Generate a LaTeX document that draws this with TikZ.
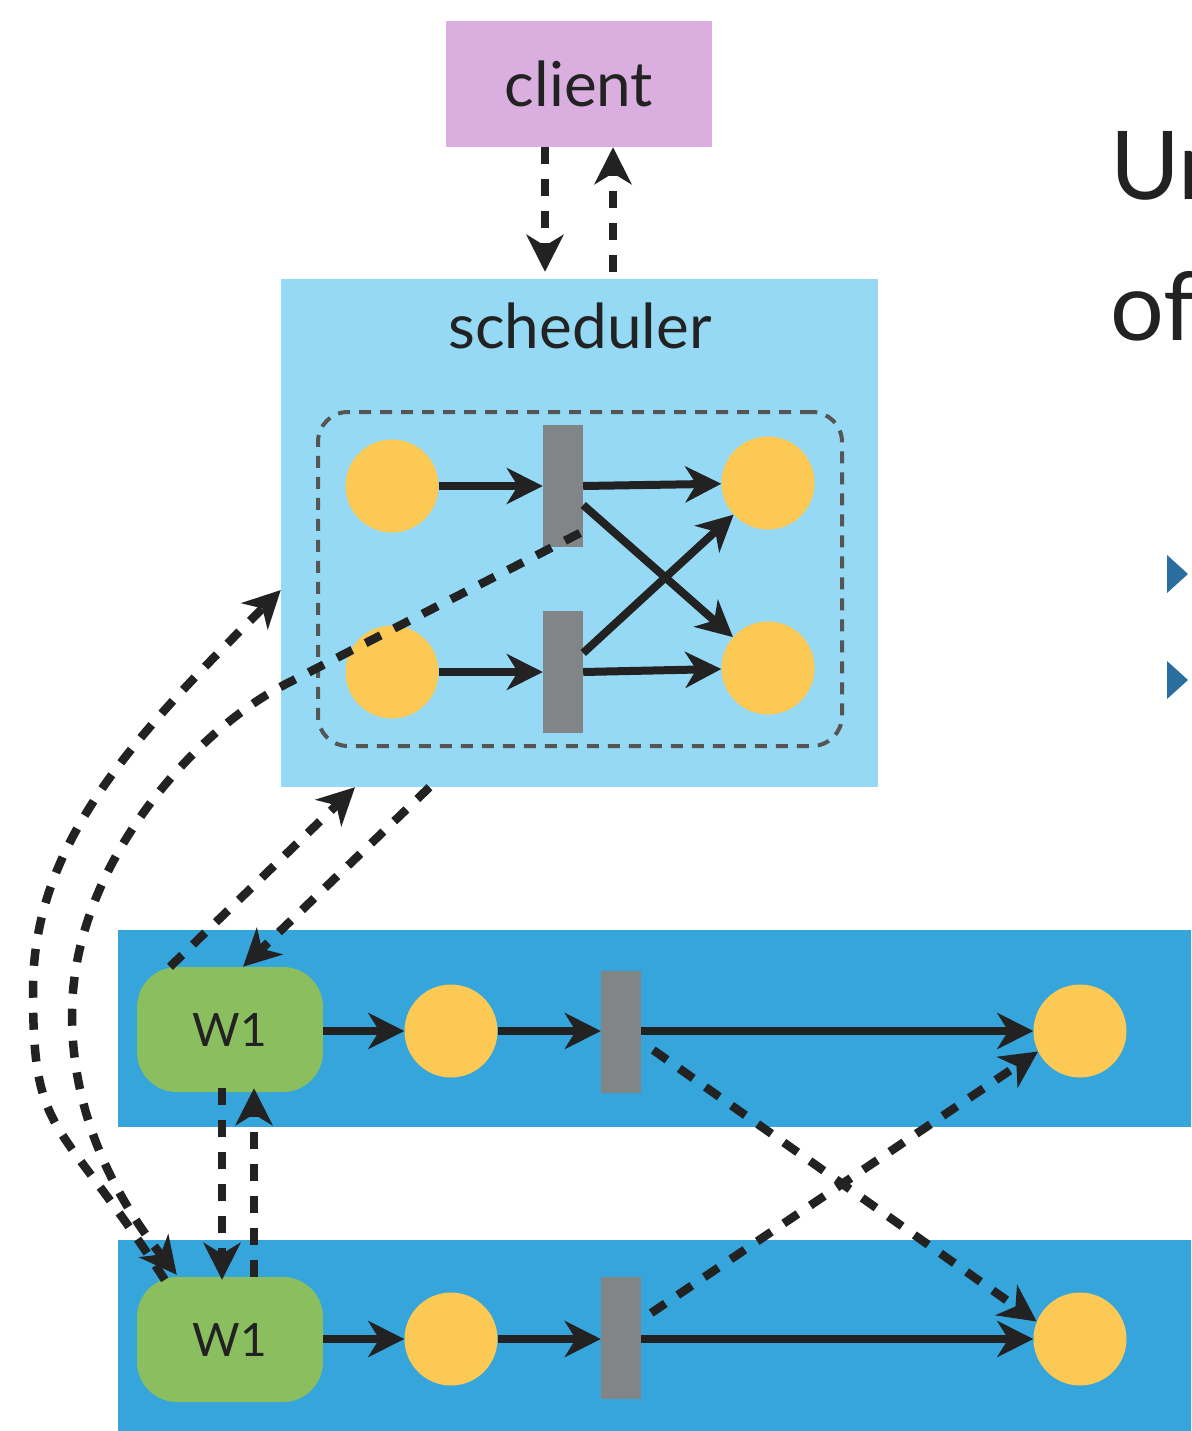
\documentclass[tikz,border=0pt]{standalone}
\usepackage{fontspec}
\setmainfont{Lato}
\usetikzlibrary{arrows.meta}

\definecolor{ink}{HTML}{222222}
\definecolor{clientc}{HTML}{DAAFDF}
\definecolor{schedc}{HTML}{95D9F5}
\definecolor{bandc}{HTML}{35A5DB}
\definecolor{workc}{HTML}{8BBE5F}
\definecolor{ballc}{HTML}{FDC955}
\definecolor{barc}{HTML}{828587}
\definecolor{framec}{HTML}{555555}
\definecolor{bulletc}{HTML}{2A6E9F}

\tikzset{
  ball/.style={circle, fill=ballc, minimum size=93pt, inner sep=0pt},
  gbar/.style={rectangle, fill=barc, minimum width=40pt, minimum height=122pt, inner sep=0pt},
  worker/.style={rectangle, fill=workc, rounded corners=40pt, minimum width=186pt,
    minimum height=125pt, inner sep=0pt, text=ink, font=\fontsize{46}{50}\selectfont},
  band/.style={rectangle, fill=bandc, anchor=north west, inner sep=0pt},
  labelfont/.style={text=ink, font=\fontsize{62}{64}\selectfont},
  solidarr/.style={draw=ink, line width=8pt,
    -{Stealth[length=36pt,width=36pt,inset=11pt]}},
  dasharr/.style={draw=ink, line width=8.5pt, dash pattern=on 17pt off 15pt,
    -{Stealth[length=37pt,width=37pt,inset=11pt]}}
}

\begin{document}
\begin{tikzpicture}[x=1pt, y=-1pt]
\useasboundingbox (0,0) rectangle (1191,1431);
\clip (0,0) rectangle (1191,1431);

% client and scheduler
\node[rectangle, fill=clientc, minimum width=266pt, minimum height=126pt, inner sep=0pt,
  labelfont] (client) at (579,84) {client};
\node[rectangle, fill=schedc, minimum width=597pt, minimum height=508pt, inner sep=0pt]
  (sched) at (579.5,533) {};
\node[anchor=base, labelfont] (schedlabel) at (580,348) {scheduler};

% task graph held by the scheduler
\node[rectangle, draw=framec, line width=4pt, dash pattern=on 12pt off 9pt,
  rounded corners=30pt, minimum width=524pt, minimum height=334pt, inner sep=0pt]
  (group) at (580,579) {};
\node[ball] (p1) at (392,486) {};
\node[ball] (p2) at (392,672) {};
\node[ball] (p3) at (768,483) {};
\node[ball] (p4) at (768,668) {};
\node[gbar] (t1) at (563,486) {};
\node[gbar] (t2) at (563,672) {};

\draw[solidarr] (p1) -- (t1);
\draw[solidarr] (t1.east) -- (p3);
\draw[solidarr] ([yshift=-19pt]t1.east) -- (p4);
\draw[solidarr] ([yshift=19pt]t2.east) -- (p3);
\draw[solidarr] (p2) -- (t2);
\draw[solidarr] (t2.east) -- (p4);

% worker rows
\node[band, minimum width=1090pt, minimum height=197pt] (band1) at (118,930) {};
\node[band, minimum width=1090pt, minimum height=200pt] (band2) at (118,1240) {};

\node[worker] (w1) at (230,1029.5) {W1};
\node[worker] (w2) at (230,1339.5) {W1};
\node[ball] (q1) at (451,1031) {};
\node[ball] (q2) at (451,1339) {};
\node[gbar] (u1) at (621,1032) {};
\node[gbar] (u2) at (621,1338) {};
\node[ball] (r1) at (1080,1031) {};
\node[ball] (r2) at (1080,1339) {};

\draw[solidarr] (w1.east |- q1) -- (q1);
\draw[solidarr] (q1) -- (u1.west |- q1);
\draw[solidarr] (u1.east |- r1) -- (r1);
\draw[solidarr] (w2.east |- q2) -- (q2);
\draw[solidarr] (q2) -- (u2.west |- q2);
\draw[solidarr] (u2.east |- r2) -- (r2);

% data moved between the workers
\draw[dasharr] ([xshift=12pt,yshift=-18pt]u1.east) -- (r2.158);
\draw[dasharr] ([xshift=10pt,yshift=25pt]u2.east) -- (r1.206);

% client <-> scheduler
\draw[dasharr] ([xshift=-34pt]client.south) -- ([xshift=-34.5pt,yshift=7pt]sched.north);
\draw[dasharr] ([xshift=33.5pt,yshift=7pt]sched.north) -- ([xshift=34pt]client.south);

% scheduler <-> first worker
\draw[dasharr] ([xshift=-150pt]sched.south) -- ([xshift=13pt]w1.north);
\draw[dasharr] ([xshift=-60pt]w1.north) -- ([xshift=-224.5pt]sched.south);

% first worker <-> second worker
\draw[dasharr] ([xshift=-8pt,yshift=4pt]w1.south) -- ([xshift=-8pt,yshift=-3pt]w2.north);
\draw[dasharr] ([xshift=24pt]w2.north) -- ([xshift=24pt,yshift=4pt]w1.south);

% long routes between the scheduler and the second worker
\coordinate (outerS) at ([xshift=28pt,yshift=-3pt]w2.north west);
\coordinate (outerM) at (33,990);
\coordinate (outerT) at ([yshift=-57pt]sched.west);
\draw[dasharr] (outerS) .. controls (57,1113) and (33,1140) .. (outerM)
  .. controls (33,840) and (139.6,731.4) .. (outerT);

\coordinate (innerA) at ([xshift=17pt,yshift=-47pt]t1.center);
\coordinate (innerB) at (284,685);
\coordinate (innerM) at (72,1015);
\coordinate (innerE) at ([xshift=40pt,yshift=2pt]w2.north west);
\draw[dasharr] (innerA) -- (innerB) .. controls (195,731) and (72,865) .. (innerM)
  .. controls (72,1115) and (115,1197) .. (innerE);

% heading and bullets at the right margin
\node[anchor=base west, text=ink, inner sep=0pt, font=\fontsize{95}{100}\selectfont]
  (head1) at (1110,200) {Un};
\node[anchor=base west, text=ink, inner sep=0pt, font=\fontsize{95}{100}\selectfont]
  (head2) at (1110,340) {of};
\fill[bulletc] (1167,555) -- (1188,574) -- (1167,593) -- cycle;
\fill[bulletc] (1167,661) -- (1188,680) -- (1167,699) -- cycle;
\end{tikzpicture}
\end{document}
